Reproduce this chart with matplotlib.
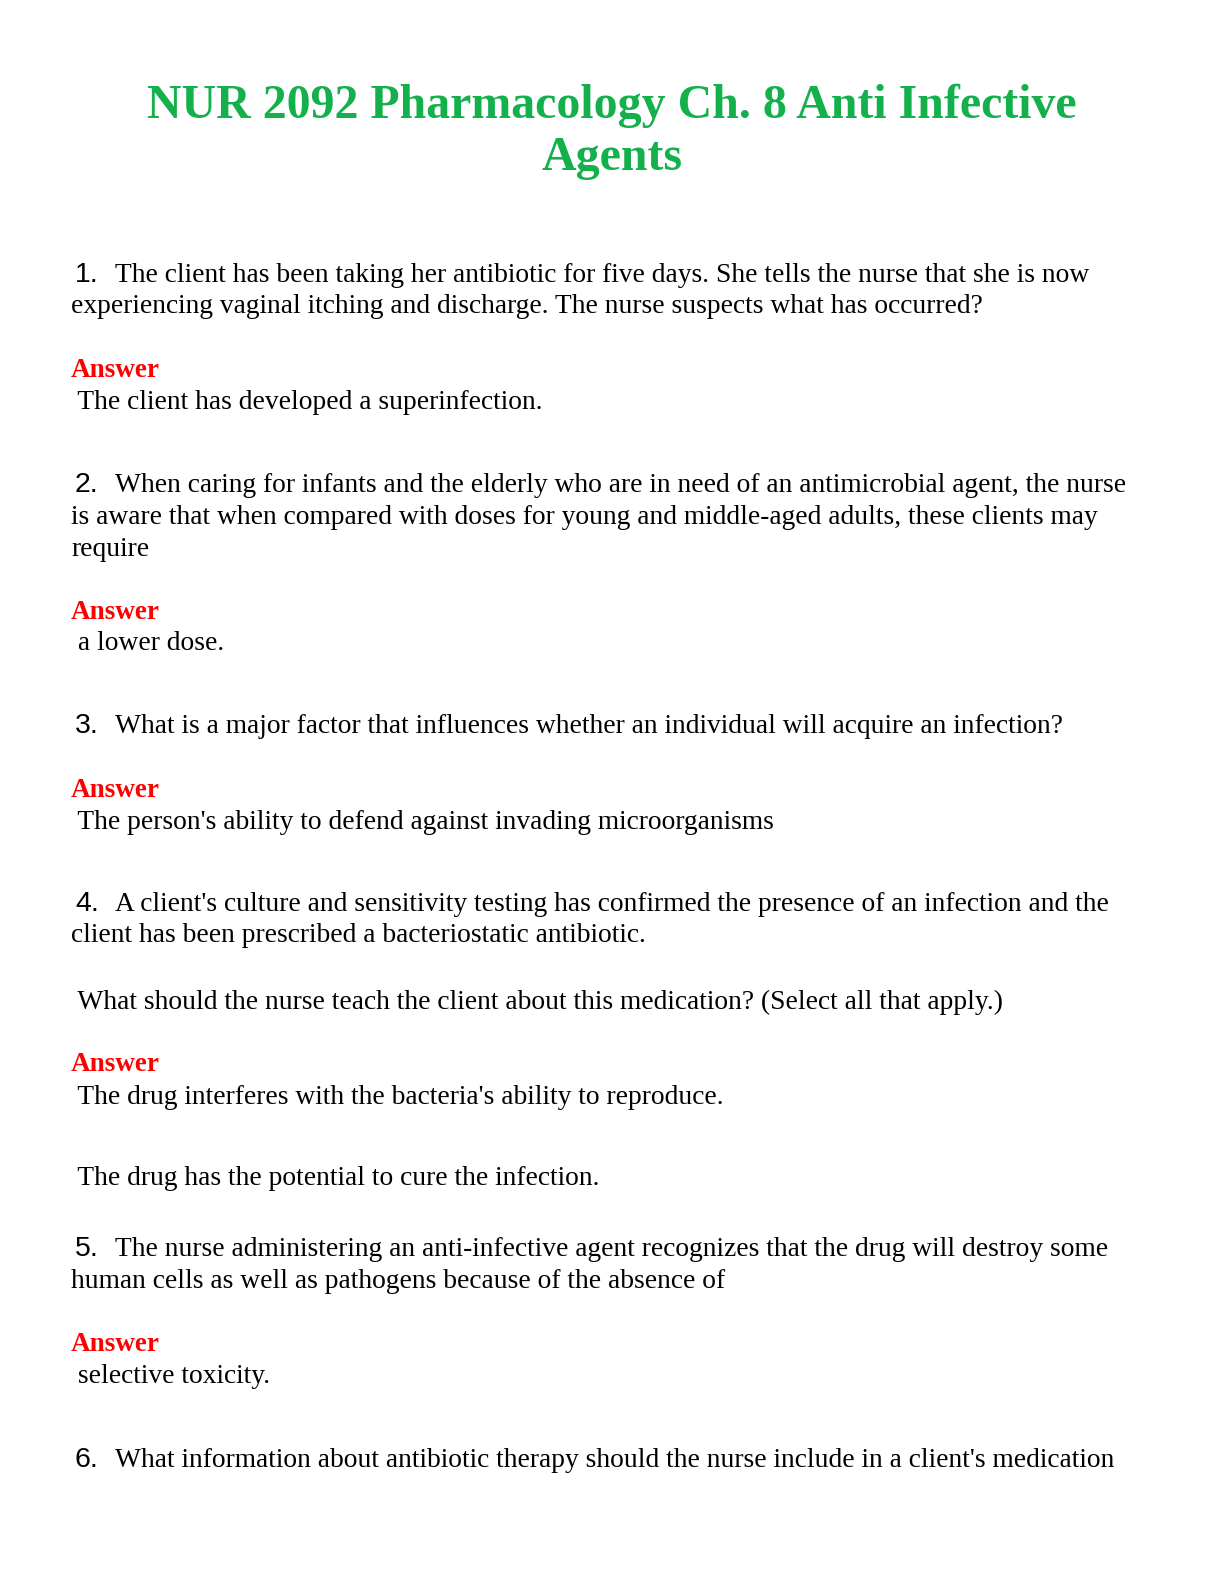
import matplotlib
matplotlib.use("Agg")
import matplotlib.pyplot as plt

W, H = 1224, 1584

title_lines = ["NUR 2092 Pharmacology Ch. 8 Anti Infective", "Agents"]
title_y = [118, 170]

# (kind, text, x, baseline_y)
rows = [
    ("num", "1.", 75, 282),
    ("q", "The client has been taking her antibiotic for five days. She tells the nurse that she is now", 115, 282),
    ("q", "experiencing vaginal itching and discharge. The nurse suspects what has occurred?", 71, 313),
    ("ans", "Answer", 71, 377),
    ("q", " The client has developed a superinfection.", 71, 409),
    ("num", "2.", 75, 492),
    ("q", "When caring for infants and the elderly who are in need of an antimicrobial agent, the nurse", 115, 492),
    ("q", "is aware that when compared with doses for young and middle-aged adults, these clients may", 71, 524),
    ("q", "require", 71, 556),
    ("ans", "Answer", 71, 619),
    ("q", " a lower dose.", 71, 650),
    ("num", "3.", 75, 733),
    ("q", "What is a major factor that influences whether an individual will acquire an infection?", 115, 733),
    ("ans", "Answer", 71, 797),
    ("q", " The person's ability to defend against invading microorganisms", 71, 829),
    ("num", "4.", 75, 911),
    ("q", "A client's culture and sensitivity testing has confirmed the presence of an infection and the", 115, 911),
    ("q", "client has been prescribed a bacteriostatic antibiotic.", 71, 942),
    ("q", " What should the nurse teach the client about this medication? (Select all that apply.)", 71, 1009),
    ("ans", "Answer", 71, 1071),
    ("q", " The drug interferes with the bacteria's ability to reproduce.", 71, 1104),
    ("q", " The drug has the potential to cure the infection.", 71, 1185),
    ("num", "5.", 75, 1256),
    ("q", "The nurse administering an anti-infective agent recognizes that the drug will destroy some", 115, 1256),
    ("q", "human cells as well as pathogens because of the absence of", 71, 1288),
    ("ans", "Answer", 71, 1351),
    ("q", " selective toxicity.", 71, 1383),
    ("num", "6.", 75, 1467),
    ("q", "What information about antibiotic therapy should the nurse include in a client's medication", 115, 1467),
]

fig = plt.figure(figsize=(W / 100, H / 100), dpi=100)
fig.patch.set_facecolor("white")

for t, y in zip(title_lines, title_y):
    fig.text(0.5, 1 - y / H, t, ha="center", va="baseline", color="#14b04c",
             fontsize=34.5, fontweight="bold", family="Liberation Serif")

styles = {
    "num": dict(family="Liberation Sans", fontsize=20.5, color="black"),
    "q": dict(family="Liberation Serif", fontsize=19.8, color="black"),
    "ans": dict(family="Liberation Serif", fontsize=19.5, color="#ff0000", fontweight="bold"),
}
for kind, text, x, y in rows:
    fig.text(x / W, 1 - y / H, text, ha="left", va="baseline", **styles[kind])

fig.savefig("out.png", dpi=100)
